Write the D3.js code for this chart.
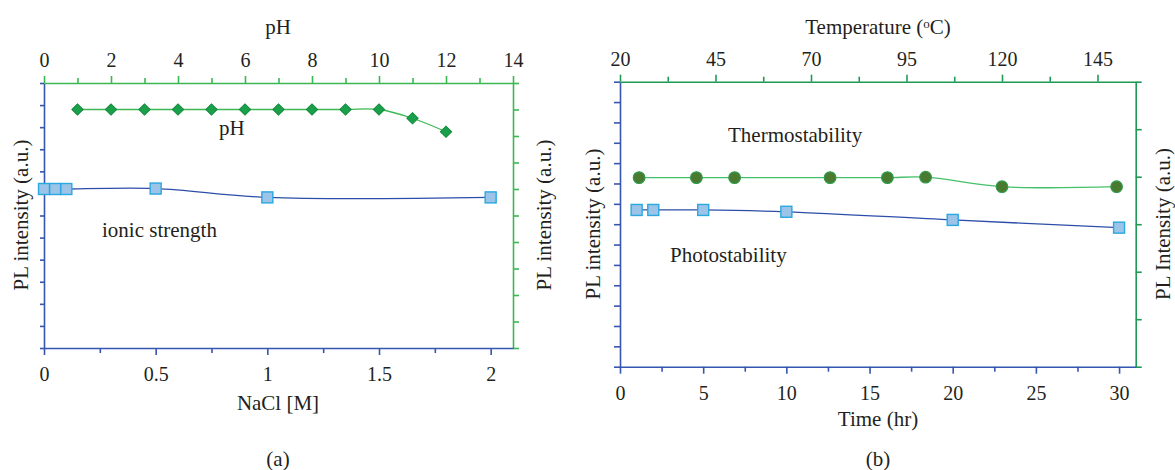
<!DOCTYPE html>
<html>
<head>
<meta charset="utf-8">
<script src="https://d3js.org/d3.v7.min.js"></script>
<style>
  body { margin: 0; background: #ffffff; }
  text { font-family: "Liberation Serif", serif; fill: #231f20; }
  .tick text { font-size: 20px; }
  .label { font-size: 21px; }
</style>
</head>
<body>
<div id="viz"></div>
<script>
  // ---- panel (a) data ----
  const naclM = [0, 0.05, 0.1, 0.5, 1, 2];
  const ionicPL = [7.2, 7.2, 7.2, 7.22, 6.82, 6.82];
  const phValues = [1, 2, 3, 4, 5, 6, 7, 8, 9, 10, 11, 12];
  const phPL = [9, 9, 9, 9, 9, 9, 9, 9, 9, 9, 8.67, 8.16];

  // ---- panel (b) data ----
  const tempC = [25, 40, 50, 75, 90, 100, 120, 150];
  const thermoPL = [3.98, 3.98, 3.98, 3.98, 3.98, 3.99, 3.79, 3.79];
  const timeHr = [1, 2, 5, 10, 20, 30];
  const photoPL = [7.7, 7.7, 7.7, 7.61, 7.21, 6.83];

  // tick values
  const naclTicks = [0, 0.5, 1, 1.5, 2];
  const naclMinor = [0.25, 0.75, 1.25, 1.75];
  const phTicks = [0, 2, 4, 6, 8, 10, 12, 14];
  const phMinor = [1, 3, 5, 7, 9, 11, 13];
  const timeTicks = [0, 5, 10, 15, 20, 25, 30];
  const timeMinor = [2.5, 7.5, 12.5, 17.5, 22.5, 27.5];
  const tempTicks = [20, 45, 70, 95, 120, 145];
  const tempMinor = [32.5, 57.5, 82.5, 107.5, 132.5];

  const blue = "#3656b0";
  const greenA = "#3cb853";
  const greenB = "#1f9a55";

  const svg = d3.select("#viz")
    .append("svg")
    .attr("width", 1175)
    .attr("height", 470);

  const line = d3.line().curve(d3.curveCatmullRom.alpha(0.5));

  // helper: draw an axis with major labelled ticks and minor unlabelled ticks
  function drawAxis(axisFn, scale, pos, major, minor, color, fmt, size, minorSize, pad) {
    const g = svg.append("g").attr("transform", pos);
    if (minor) {
      g.append("g")
        .call(axisFn(scale).tickValues(minor).tickSize(minorSize).tickSizeOuter(0).tickFormat(""))
        .call(s => s.select(".domain").remove());
    }
    g.append("g")
      .call(axisFn(scale).tickValues(major).tickSize(size).tickSizeOuter(0).tickPadding(pad)
        .tickFormat(fmt || ""));
    g.selectAll("path, line").attr("stroke", color).attr("stroke-width", 1.6);
    return g;
  }

  // ================= panel (a) =================
  const xN = d3.scaleLinear().domain([0, 2.1]).range([44, 513]);
  const xPH = d3.scaleLinear().domain([0, 14]).range([44, 513]);
  const yA = d3.scaleLinear().domain([0, 12]).range([348, 83]);
  const yA2 = d3.scaleLinear().domain([0, 10]).range([348, 83]);

  drawAxis(d3.axisLeft, yA, "translate(44,0)", d3.range(0, 13), null, blue, null, 4, 0, 0);
  drawAxis(d3.axisRight, yA2, "translate(513,0)", d3.range(0, 11), null, greenA, null, 6, 0, 0);
  drawAxis(d3.axisTop, xPH, "translate(0,83)", phTicks, phMinor, greenA, d3.format("d"), 7, 5, 9);
  drawAxis(d3.axisBottom, xN, "translate(0,348)", naclTicks, naclMinor, blue, d => d, 7, 5, 12);

  // ionic strength line + squares
  svg.append("path")
    .attr("fill", "none")
    .attr("stroke", "#2d4ea8")
    .attr("stroke-width", 1.3)
    .attr("d", line(naclM.map((v, i) => [xN(v), yA(ionicPL[i])])));
  svg.selectAll("rect.ionic")
    .data(naclM)
    .join("rect")
    .attr("class", "ionic")
    .attr("x", d => xN(d) - 5.5)
    .attr("y", (d, i) => yA(ionicPL[i]) - 5.5)
    .attr("width", 11).attr("height", 11)
    .attr("fill", "#9cc3e8")
    .attr("stroke", "#2aa8e0")
    .attr("stroke-width", 1.4);

  // pH line + diamonds
  svg.append("path")
    .attr("fill", "none")
    .attr("stroke", greenA)
    .attr("stroke-width", 1.3)
    .attr("d", line(phValues.map((v, i) => [xPH(v), yA2(phPL[i])])));
  svg.selectAll("path.ph")
    .data(phValues)
    .join("path")
    .attr("class", "ph")
    .attr("d", d3.symbol(d3.symbolSquare, 64))
    .attr("transform", (d, i) => `translate(${xPH(d)},${yA2(phPL[i])}) rotate(45)`)
    .attr("fill", "#1aa04a")
    .attr("stroke", "#138a3d")
    .attr("stroke-width", 1);

  svg.append("text").attr("class", "label").attr("x", 219).attr("y", 135).text("pH");
  svg.append("text").attr("class", "label").attr("x", 102).attr("y", 237).text("ionic strength");

  svg.append("text").attr("class", "label").attr("x", 278).attr("y", 34)
    .attr("text-anchor", "middle").text("pH");
  svg.append("text").attr("class", "label").attr("x", 278).attr("y", 410)
    .attr("text-anchor", "middle").text("NaCl [M]");
  svg.append("text").attr("class", "label")
    .attr("transform", "translate(28,215) rotate(-90)")
    .attr("text-anchor", "middle").text("PL intensity (a.u.)");
  svg.append("text").attr("class", "label")
    .attr("transform", "translate(551,215) rotate(-90)")
    .attr("text-anchor", "middle").text("PL intensity (a.u.)");
  svg.append("text").attr("class", "label").attr("x", 278).attr("y", 466)
    .attr("text-anchor", "middle").text("(a)");

  // ================= panel (b) =================
  const xT = d3.scaleLinear().domain([0, 31]).range([620, 1135.7]);
  const xC = d3.scaleLinear().domain([20, 155]).range([620, 1135.7]);
  const yB = d3.scaleLinear().domain([0, 14]).range([366.7, 81.7]);
  const yB2 = d3.scaleLinear().domain([0, 6]).range([366.7, 81.7]);

  drawAxis(d3.axisLeft, yB, "translate(620,0)", d3.range(0, 15), null, blue, null, 6, 0, 0);
  drawAxis(d3.axisRight, yB2, "translate(1135.7,0)", d3.range(0, 7), null, greenB, null, 6, 0, 0);
  drawAxis(d3.axisTop, xC, "translate(0,81.7)", tempTicks, tempMinor, greenB, d3.format("d"), 7, 5, 9);
  drawAxis(d3.axisBottom, xT, "translate(0,366.7)", timeTicks, timeMinor, blue, d3.format("d"), 7, 5, 12);

  // thermostability line + circles
  svg.append("path")
    .attr("fill", "none")
    .attr("stroke", "#45c06a")
    .attr("stroke-width", 1.3)
    .attr("d", line(tempC.map((v, i) => [xC(v), yB2(thermoPL[i])])));
  svg.selectAll("circle.thermo")
    .data(tempC)
    .join("circle")
    .attr("class", "thermo")
    .attr("cx", d => xC(d))
    .attr("cy", (d, i) => yB2(thermoPL[i]))
    .attr("r", 5.8)
    .attr("fill", "#4a7a30")
    .attr("stroke", "#2e9a4a")
    .attr("stroke-width", 1.2);

  // photostability line + squares
  svg.append("path")
    .attr("fill", "none")
    .attr("stroke", "#2d4ea8")
    .attr("stroke-width", 1.3)
    .attr("d", line(timeHr.map((v, i) => [xT(v), yB(photoPL[i])])));
  svg.selectAll("rect.photo")
    .data(timeHr)
    .join("rect")
    .attr("class", "photo")
    .attr("x", d => xT(d) - 5.5)
    .attr("y", (d, i) => yB(photoPL[i]) - 5.5)
    .attr("width", 11).attr("height", 11)
    .attr("fill", "#9cc3e8")
    .attr("stroke", "#2aa8e0")
    .attr("stroke-width", 1.4);

  svg.append("text").attr("class", "label").attr("x", 728).attr("y", 142).text("Thermostability");
  svg.append("text").attr("class", "label").attr("x", 670).attr("y", 262).text("Photostability");

  const tTitle = svg.append("text").attr("class", "label").attr("x", 878).attr("y", 34)
    .attr("text-anchor", "middle");
  tTitle.append("tspan").text("Temperature (");
  tTitle.append("tspan").attr("dy", -6).style("font-size", "13px").text("o");
  tTitle.append("tspan").attr("dy", 6).text("C)");
  svg.append("text").attr("class", "label").attr("x", 878).attr("y", 426)
    .attr("text-anchor", "middle").text("Time (hr)");
  svg.append("text").attr("class", "label")
    .attr("transform", "translate(600,224) rotate(-90)")
    .attr("text-anchor", "middle").text("PL intensity (a.u.)");
  svg.append("text").attr("class", "label")
    .attr("transform", "translate(1170,224) rotate(-90)")
    .attr("text-anchor", "middle").text("PL Intensity (a.u.)");
  svg.append("text").attr("class", "label").attr("x", 878).attr("y", 466)
    .attr("text-anchor", "middle").text("(b)");
</script>
</body>
</html>
